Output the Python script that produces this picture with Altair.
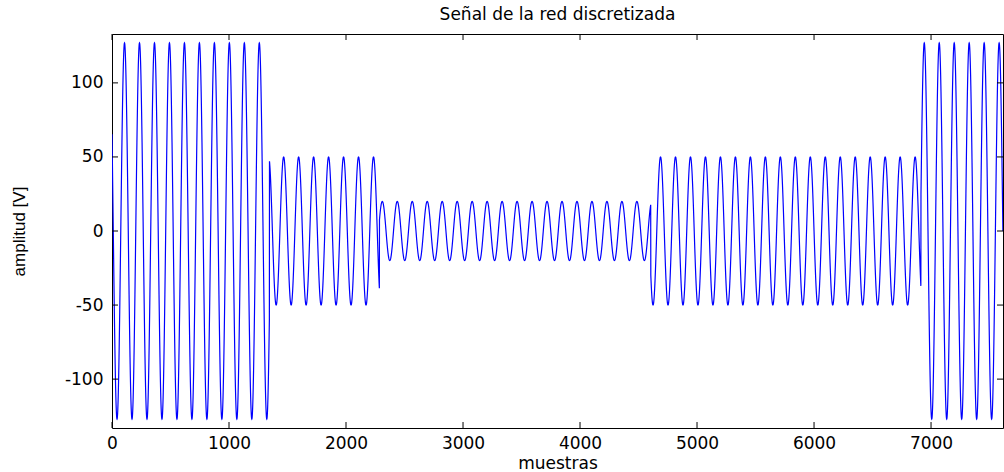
import altair as alt
import numpy as np
import pandas as pd

alt.data_transformers.disable_max_rows()

# ---- data ----
title_text = "Señal de la red discretizada"
x_title = "muestras"
y_title = "amplitud [V]"

n_samples = 7615                                # number of samples shown
period = 128                                    # samples per cycle
seg_start = [0, 1346, 2286, 4605, 6914]         # first sample of each segment
seg_amp = [127, 50, 20, 50, 127]                # peak amplitude [V] of each segment
seg_peak = [107, 1467, 2310, 4688, 6942]        # a sample where each segment peaks

x_ticks = [0, 1000, 2000, 3000, 4000, 5000, 6000, 7000]
y_ticks = [-100, -50, 0, 50, 100]
x_domain = [0, 7615]
y_domain = [-133, 133]

# ---- discretised mains signal ----
n = np.arange(n_samples)
v = np.zeros(n_samples)
bounds = seg_start + [n_samples]
for i in range(len(seg_amp)):
    m = (n >= bounds[i]) & (n < bounds[i + 1])
    v[m] = seg_amp[i] * np.cos(2 * np.pi * (n[m] - seg_peak[i]) / period)
df = pd.DataFrame({"n": n, "v": v})

W, H = 891, 394
FONT = "DejaVu Sans"
LABEL_EXPR = "'' + datum.value"

x_enc = alt.X(
    "n:Q",
    scale=alt.Scale(domain=x_domain, nice=False, zero=False),
    axis=alt.Axis(
        values=x_ticks, title=x_title, tickSize=0, domain=False, grid=False,
        labelExpr=LABEL_EXPR,
        labelFlush=False, labelPadding=7, labelFont=FONT, labelFontSize=17,
        labelColor="black", titleFont=FONT, titleFontSize=17,
        titleFontWeight="normal", titleColor="black",
        titleY=40, titleBaseline="alphabetic",
    ),
)
y_enc = alt.Y(
    "v:Q",
    scale=alt.Scale(domain=y_domain, nice=False, zero=False),
    axis=alt.Axis(
        values=y_ticks, title=y_title, tickSize=0, domain=False, grid=False,
        labelExpr=LABEL_EXPR,
        labelPadding=9, labelFont=FONT, labelFontSize=17, labelColor="black",
        titleFont="Liberation Sans", titleFontSize=17, titleFontWeight="normal",
        titleColor="black", titleX=-84, titleY=H / 2,
    ),
)

line = alt.Chart(df).mark_line(color="#0000ff", strokeWidth=1.2, clip=True).encode(
    x=x_enc, y=y_enc
)

xt = pd.DataFrame({"n": x_ticks})
yt = pd.DataFrame({"v": y_ticks})
TL = 6
top_ticks = alt.Chart(xt).mark_rule(color="black").encode(
    x=x_enc, y=alt.value(0), y2=alt.value(TL)
)
bot_ticks = alt.Chart(xt).mark_rule(color="black").encode(
    x=x_enc, y=alt.value(H - TL), y2=alt.value(H)
)
left_ticks = alt.Chart(yt).mark_rule(color="black").encode(
    y=y_enc, x=alt.value(0), x2=alt.value(TL)
)
right_ticks = alt.Chart(yt).mark_rule(color="black").encode(
    y=y_enc, x=alt.value(W - TL), x2=alt.value(W)
)

chart = (
    alt.layer(line, top_ticks, bot_ticks, left_ticks, right_ticks)
    .properties(
        width=W,
        height=H,
        title=alt.TitleParams(
            title_text, font=FONT, fontSize=17, fontWeight="normal",
            color="black", anchor="middle", offset=10,
        ),
        padding={"left": 112, "top": 34, "right": 1, "bottom": 44},
        autosize="none",
        background="white",
    )
    .configure_view(stroke="black", strokeWidth=1)
)

chart.save("out.html", embed_options={"renderer": "svg", "actions": False})
